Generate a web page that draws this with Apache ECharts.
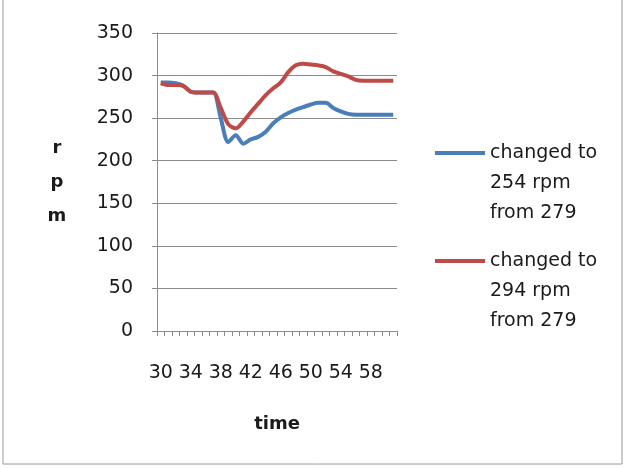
<!DOCTYPE html>
<html>
<head>
<meta charset="utf-8">
<script src="https://cdn.jsdelivr.net/npm/echarts@6/dist/echarts.min.js"></script>
<style>
  html, body { margin: 0; padding: 0; background: #fff; }
  #chart { width: 626px; height: 468px; }
</style>
</head>
<body>
<div id="chart"></div>
<script>
// Time steps (seconds) along the x axis
const times = [30,31,32,33,34,35,36,37,38,39,40,41,42,43,44,45,46,47,48,49,50,51,52,53,54,55,56,57,58,59,60,61];

// Speed response after the set-point change to 254 rpm
const rpmTo254 = [292,292,291,288,281,280,280,280,250,222,230,220,225,228,234,244,251,256,260,263,266,268,268,262,258,255,254,254,254,254,254,254];

// Speed response after the set-point change to 294 rpm
const rpmTo294 = [291,289,289,288,281,280,280,280,262,243,238,246,257,267,277,285,292,304,312,314,313,312,310,305,302,299,295,294,294,294,294,294];

const seriesNames = ['changed to\n254 rpm\nfrom 279', 'changed to\n294 rpm\nfrom 279'];
const seriesColors = ['#4a7ebb', '#be4b48'];

const FONT = 'DejaVu Sans';
const gridGray = '#8c8c8c';

const chart = echarts.init(document.getElementById('chart'), null, { renderer: 'canvas' });

const legendBase = {
  orient: 'vertical',
  left: 435,
  padding: 0,
  itemWidth: 50,
  itemHeight: 4,
  itemGap: 0,
  icon: 'rect',
  itemStyle: { borderWidth: 0 },
  textStyle: { fontFamily: FONT, fontSize: 19, color: '#1a1a1a', lineHeight: 30 },
  formatter: name => '\n\n' + name
};

chart.setOption({
  animation: false,
  backgroundColor: '#fff',
  graphic: [{
    type: 'rect',
    shape: { x: 3, y: -5, width: 619, height: 469 },
    style: { fill: 'none', stroke: '#9a9a9a', lineWidth: 1 },
    silent: true
  }],
  legend: [
    Object.assign({}, legendBase, { data: [seriesNames[0]], top: 78 }),
    Object.assign({}, legendBase, { data: [seriesNames[1]], top: 186 })
  ],
  grid: { left: 157, right: 229, top: 33, bottom: 137, containLabel: false },
  xAxis: {
    type: 'category',
    data: times,
    boundaryGap: true,
    name: 'time',
    nameLocation: 'middle',
    nameGap: 84,
    nameTextStyle: { fontFamily: FONT, fontSize: 18, fontWeight: 'bold', color: '#1a1a1a' },
    axisLine: { lineStyle: { color: gridGray, width: 1 } },
    axisTick: { show: true, interval: 0, length: 5, lineStyle: { color: gridGray } },
    axisLabel: { interval: 3, margin: 33, fontFamily: FONT, fontSize: 19, color: '#1a1a1a' },
    splitLine: { show: false }
  },
  yAxis: {
    type: 'value',
    min: 0,
    max: 350,
    interval: 50,
    name: 'r\np\nm',
    nameLocation: 'middle',
    nameRotate: 0,
    nameGap: 100,
    nameTextStyle: {
      fontFamily: FONT, fontSize: 18, fontWeight: 'bold', color: '#1a1a1a',
      lineHeight: 34, align: 'center', verticalAlign: 'middle', padding: [10, 0, 0, 0]
    },
    axisLine: { show: true, lineStyle: { color: gridGray, width: 1 } },
    axisTick: { show: true, length: 5, lineStyle: { color: gridGray } },
    axisLabel: { margin: 24, fontFamily: FONT, fontSize: 19, color: '#1a1a1a' },
    splitLine: { show: true, lineStyle: { color: gridGray, width: 1 } }
  },
  series: [
    {
      name: seriesNames[0],
      type: 'line',
      data: rpmTo254,
      symbol: 'none',
      smooth: 0.3,
      color: seriesColors[0],
      lineStyle: { color: seriesColors[0], width: 4 }
    },
    {
      name: seriesNames[1],
      type: 'line',
      data: rpmTo294,
      symbol: 'none',
      smooth: 0.3,
      color: seriesColors[1],
      lineStyle: { color: seriesColors[1], width: 4 }
    }
  ]
});
</script>
</body>
</html>
